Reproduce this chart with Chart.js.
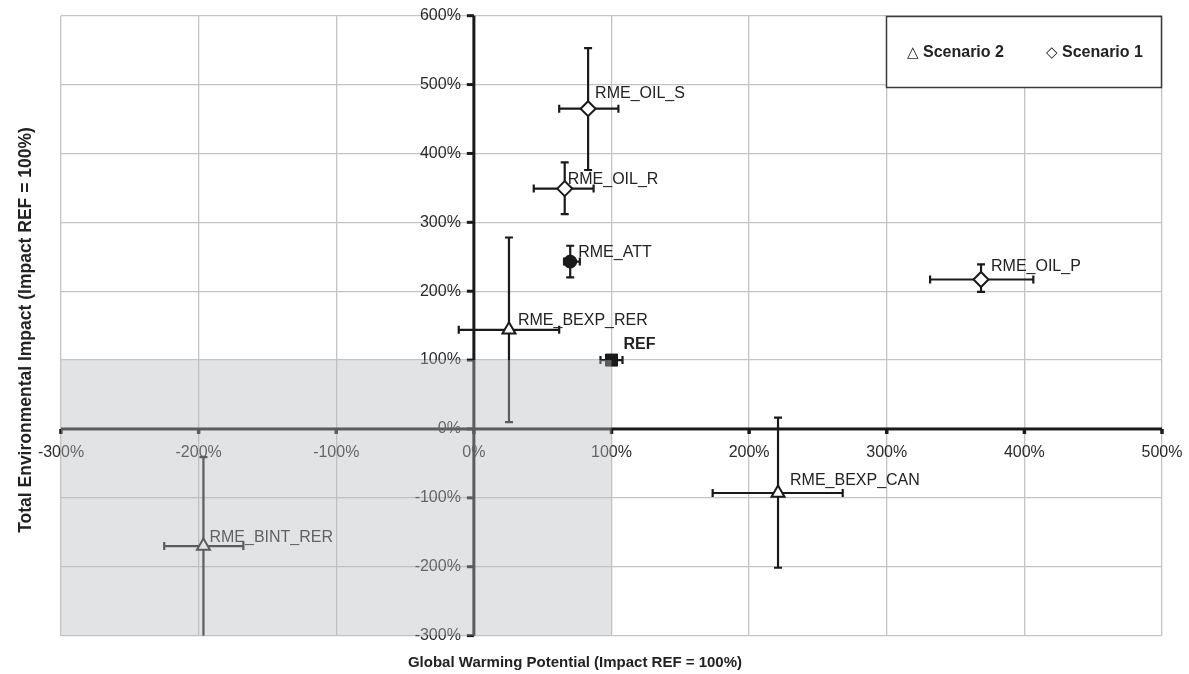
<!DOCTYPE html>
<html>
<head>
<meta charset="utf-8">
<script src="https://cdn.jsdelivr.net/npm/chart.js@4.4.1/dist/chart.umd.min.js"></script>
<style>
html,body{margin:0;padding:0;background:#fff;}
#wrap{width:1189px;height:674px;position:relative;}
</style>
</head>
<body>
<div id="wrap"><canvas id="c" width="1189" height="674"></canvas></div>
<script>
// ---------- data ----------
const pointNames  = ['RME_OIL_S','RME_OIL_R','RME_OIL_P','RME_BEXP_RER','RME_BEXP_CAN','RME_BINT_RER','RME_ATT','REF'];
const pointSeries = ['Scenario 1','Scenario 1','Scenario 1','Scenario 2','Scenario 2','Scenario 2','RME_ATT','REF'];
const gwpValues   = [83, 66, 368.5, 25.5, 221, -196.5, 70, 100];
const teiValues   = [465, 349, 217, 144, -93, -170, 243, 100];
const gwpLow      = [62, 43.5, 331.5, -11, 173.5, -225, 65.5, 92];
const gwpHigh     = [105, 87, 406.5, 62, 268, -167.5, 77, 108];
const teiLow      = [376, 312, 199, 10, -201.5, -330, 220, 100];
const teiHigh     = [553, 387, 239, 278, 16.5, -41, 266, 100];
const legendOrder = ['Scenario 2','Scenario 1'];
const xTickLabels = ['-300%','-200%','-100%','0%','100%','200%','300%','400%','500%'];
const yTickLabels = ['-300%','-200%','-100%','0%','100%','200%','300%','400%','500%','600%'];
const shadedX     = [-300, 100];
const shadedY     = [-300, 100];
const xTitle = 'Global Warming Potential (Impact REF = 100%)';
const yTitle = 'Total Environmental Impact (Impact REF = 100%)';

// ---------- style ----------
const FONT = "'Liberation Sans', Arial, sans-serif";
const labelNudge = [[7,-15],[3,-9],[10,-13],[9,-9],[12,-12],[6,-8],[8,-9],[12,-15]];
const boldLabels = ['REF'];
const legendGlyph = {'Scenario 1':'\u25C7','Scenario 2':'\u25B3'};

function pointsFor(series){
  const out=[];
  pointNames.forEach((n,i)=>{ if(pointSeries[i]===series) out.push({x:gwpValues[i], y:teiValues[i], idx:i}); });
  return out;
}

const excelLook = {
  id:'excelLook',
  beforeDatasetsDraw(chart){
    const {ctx, chartArea:a, scales:{x,y}} = chart;
    const x0 = x.getPixelForValue(0), y0 = y.getPixelForValue(0);
    ctx.save();
    ctx.fillStyle = '#1a1a1a';
    ctx.fillRect(x0-1.5, a.top, 3, a.bottom-a.top);
    ctx.fillRect(a.left, y0-1.5, a.right-a.left, 3);
    yTickLabels.forEach(l=>{ const py=y.getPixelForValue(parseFloat(l)); ctx.fillRect(x0-7, py-1.5, 7, 3); });
    xTickLabels.forEach(l=>{ const px=x.getPixelForValue(parseFloat(l)); ctx.fillRect(px-1.75, y0, 3.5, 5); });
    ctx.font = '16px '+FONT; ctx.fillStyle='#2a2a2a'; ctx.textBaseline='middle';
    ctx.textAlign='right';
    yTickLabels.forEach(l=>{ const py=y.getPixelForValue(parseFloat(l)); ctx.fillText(l, x0-13, py); });
    ctx.textAlign='center';
    xTickLabels.forEach(l=>{ const px=x.getPixelForValue(parseFloat(l)); ctx.fillText(l, px, y0+24); });
    // error bars
    ctx.save();
    ctx.beginPath(); ctx.rect(a.left, a.top, a.right-a.left, a.bottom-a.top); ctx.clip();
    ctx.strokeStyle='#1a1a1a'; ctx.lineWidth=2.2; ctx.lineCap='butt';
    const cap=4;
    pointNames.forEach((n,i)=>{
      const px=x.getPixelForValue(gwpValues[i]), py=y.getPixelForValue(teiValues[i]);
      const xl=x.getPixelForValue(gwpLow[i]), xh=x.getPixelForValue(gwpHigh[i]);
      const yl=y.getPixelForValue(teiLow[i]), yh=y.getPixelForValue(teiHigh[i]);
      ctx.beginPath();
      if (gwpLow[i]!==gwpHigh[i]){
        ctx.moveTo(xl,py); ctx.lineTo(xh,py);
        ctx.moveTo(xl,py-cap); ctx.lineTo(xl,py+cap);
        ctx.moveTo(xh,py-cap); ctx.lineTo(xh,py+cap);
      }
      if (teiLow[i]!==teiHigh[i]){
        ctx.moveTo(px,yl); ctx.lineTo(px,yh);
        ctx.moveTo(px-cap,yl); ctx.lineTo(px+cap,yl);
        ctx.moveTo(px-cap,yh); ctx.lineTo(px+cap,yh);
      }
      ctx.stroke();
    });
    ctx.restore();
    ctx.restore();
  },
  afterDatasetsDraw(chart){
    const {ctx, chartArea:a, scales:{x,y}} = chart;
    ctx.save();
    ctx.textBaseline='middle'; ctx.textAlign='left'; ctx.fillStyle='#222';
    pointNames.forEach((n,i)=>{
      const px=x.getPixelForValue(gwpValues[i]), py=y.getPixelForValue(teiValues[i]);
      ctx.font = (boldLabels.includes(n)?'bold ':'')+'16px '+FONT;
      ctx.fillText(n, px+labelNudge[i][0], py+labelNudge[i][1]);
    });
    // shaded region overlay
    const rx1=x.getPixelForValue(shadedX[0]), rx2=x.getPixelForValue(shadedX[1]);
    const ry1=y.getPixelForValue(shadedY[1]), ry2=y.getPixelForValue(shadedY[0]);
    ctx.fillStyle='rgba(184,186,191,0.41)';
    ctx.fillRect(rx1, ry1, rx2-rx1, ry2-ry1);
    ctx.restore();
  },
  afterDraw(chart){
    const {ctx} = chart;
    ctx.save();
    // legend
    ctx.fillStyle='#fff'; ctx.fillRect(886,16,276,72);
    ctx.strokeStyle='#3a3a3a'; ctx.lineWidth=1.5; ctx.strokeRect(886.5,16.5,275,71);
    ctx.textBaseline='middle'; ctx.textAlign='left'; ctx.fillStyle='#222';
    const lx=[907,1046];
    legendOrder.forEach((s,k)=>{
      ctx.font='15px DejaVu Sans, sans-serif';
      ctx.fillText(legendGlyph[s], lx[k], 53);
      ctx.font='bold 16px '+FONT;
      ctx.fillText(s, lx[k]+16, 53);
    });
    // axis titles
    ctx.fillStyle='#222';
    ctx.font='bold 15px '+FONT; ctx.textAlign='center';
    ctx.fillText(xTitle, 575, 663);
    ctx.save();
    ctx.translate(26, 330); ctx.rotate(-Math.PI/2);
    ctx.font='bold 17.5px '+FONT;
    ctx.fillText(yTitle, 0, 0);
    ctx.restore();
    ctx.restore();
  }
};

const chart = new Chart(document.getElementById('c'), {
  type:'scatter',
  data:{
    datasets:[
      {label:'Scenario 1', data:pointsFor('Scenario 1'), pointStyle:'rectRot', pointRadius:7.5,
       backgroundColor:'#fff', borderColor:'#1a1a1a', borderWidth:2},
      {label:'Scenario 2', data:pointsFor('Scenario 2'), pointStyle:'triangle', pointRadius:7.5,
       backgroundColor:'#fff', borderColor:'#1a1a1a', borderWidth:2},
      {label:'RME_ATT', data:pointsFor('RME_ATT'), pointStyle:'circle', pointRadius:6.5,
       backgroundColor:'#1a1a1a', borderColor:'#1a1a1a', borderWidth:1},
      {label:'REF', data:pointsFor('REF'), pointStyle:'rect', pointRadius:8.5,
       backgroundColor:'#1a1a1a', borderColor:'#1a1a1a', borderWidth:1}
    ]
  },
  options:{
    responsive:false, animation:false, devicePixelRatio:1,
    events:[],
    layout:{padding:{left:61, right:27, top:15.7, bottom:38.4}},
    plugins:{legend:{display:false}, tooltip:{enabled:false}},
    scales:{
      x:{type:'linear', min:-300, max:500,
         ticks:{display:false, stepSize:100},
         grid:{color:'#c4c4c4', lineWidth:1.3, drawTicks:false},
         border:{display:false}},
      y:{type:'linear', min:-300, max:600,
         ticks:{display:false, stepSize:100},
         grid:{color:'#c4c4c4', lineWidth:1.3, drawTicks:false},
         border:{display:false}}
    }
  },
  plugins:[excelLook]
});
</script>
</body>
</html>
